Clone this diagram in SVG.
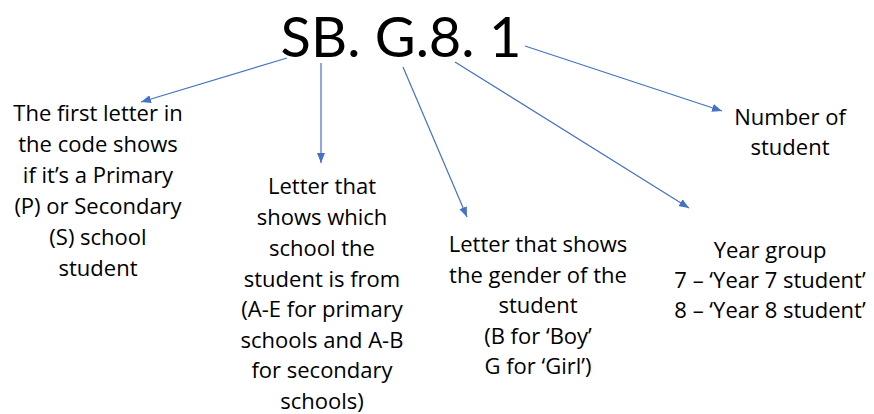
<svg xmlns="http://www.w3.org/2000/svg" width="874" height="414" viewBox="0 0 874 414">
  <style>
    .t { font-family: "Open Sans", "Noto Sans", "Liberation Sans", sans-serif; font-size: 22px; fill: #000; text-anchor: middle; }
    .title { font-family: Lato, "Open Sans", "Liberation Sans", sans-serif; font-size: 56px; fill: #000; text-anchor: middle; }
    .c { stroke: #4472C4; stroke-width: 1.2; fill: none; marker-end: url(#ah); }
  </style>
  <defs>
    <marker id="ah" viewBox="0 0 10 8" refX="10" refY="4" markerWidth="10" markerHeight="8" markerUnits="userSpaceOnUse" orient="auto">
      <path d="M0,0 L10,4 L0,8 z" fill="#4472C4"/>
    </marker>
  </defs>
  <rect width="874" height="414" fill="#fff"/>

  <g id="code">
    <text class="title" x="401" y="57">SB. G.8. 1</text>
  </g>

  <g id="node-phase">
    <text class="t" x="98" y="121">The first letter in</text>
    <text class="t" x="98" y="152">the code shows</text>
    <text class="t" x="98" y="183">if it’s a Primary</text>
    <text class="t" x="98" y="214">(P) or Secondary</text>
    <text class="t" x="98" y="245">(S) school</text>
    <text class="t" x="98" y="276">student</text>
  </g>

  <g id="node-school">
    <text class="t" x="322" y="194">Letter that</text>
    <text class="t" x="322" y="225">shows which</text>
    <text class="t" x="322" y="256">school the</text>
    <text class="t" x="322" y="287">student is from</text>
    <text class="t" x="322" y="317">(A-E for primary</text>
    <text class="t" x="322" y="348">schools and A-B</text>
    <text class="t" x="322" y="378">for secondary</text>
    <text class="t" x="322" y="409">schools)</text>
  </g>

  <g id="node-gender">
    <text class="t" x="538" y="252">Letter that shows</text>
    <text class="t" x="538" y="282.5">the gender of the</text>
    <text class="t" x="538" y="313">student</text>
    <text class="t" x="538" y="343.5">(B for ‘Boy’</text>
    <text class="t" x="538" y="374">G for ‘Girl’)</text>
  </g>

  <g id="node-year">
    <text class="t" x="770" y="258">Year group</text>
    <text class="t" x="770" y="288">7 – ‘Year 7 student’</text>
    <text class="t" x="770" y="318">8 – ‘Year 8 student’</text>
  </g>

  <g id="node-number">
    <text class="t" x="790" y="125">Number of</text>
    <text class="t" x="790" y="155">student</text>
  </g>

  <g id="connectors">
    <line class="c" x1="287" y1="58" x2="141" y2="102"/>
    <line class="c" x1="321" y1="63" x2="321" y2="163"/>
    <line class="c" x1="403" y1="67" x2="467" y2="217"/>
    <line class="c" x1="455" y1="62" x2="689" y2="208"/>
    <line class="c" x1="525" y1="46" x2="722" y2="111"/>
  </g>
</svg>
